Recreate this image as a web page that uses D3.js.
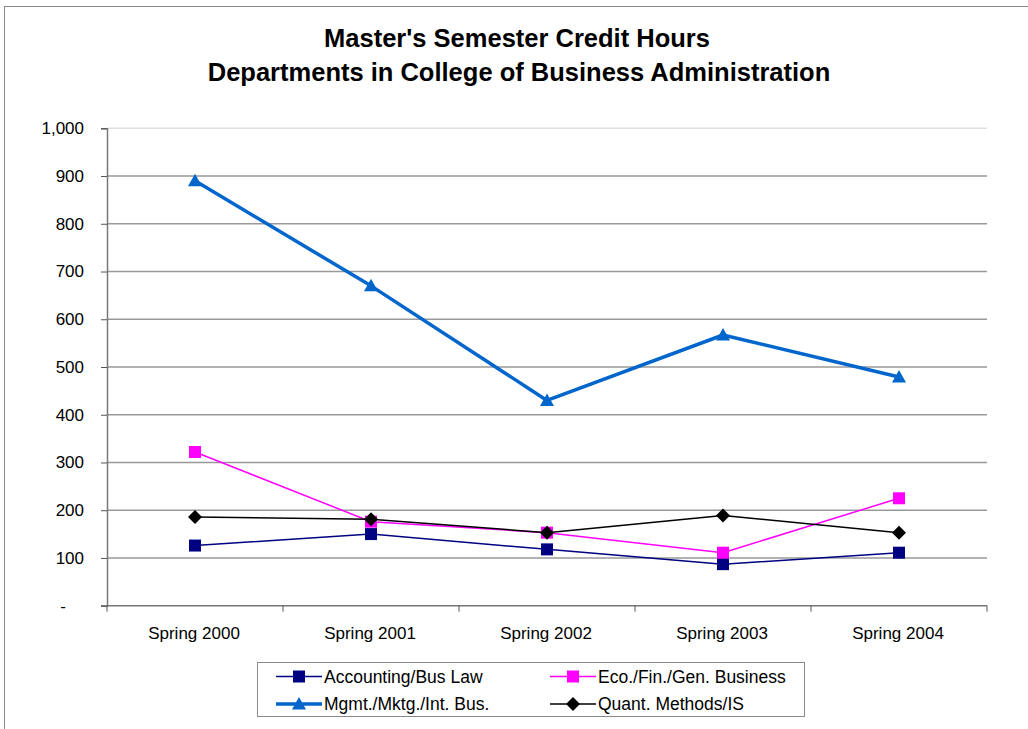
<!DOCTYPE html>
<html>
<head>
<meta charset="utf-8">
<script src="https://cdn.jsdelivr.net/npm/d3@7"></script>
<style>
  html, body { margin: 0; padding: 0; background: #fff; }
  svg { display: block; font-family: "Liberation Sans", Arial, sans-serif; }
</style>
</head>
<body>
<svg id="chart" width="1028" height="729"></svg>
<script>
// Semesters along the x axis
const semesters = ["Spring 2000", "Spring 2001", "Spring 2002", "Spring 2003", "Spring 2004"];

// Master's semester credit hours per department
const accounting = [126, 150, 118, 87, 111];
const economics  = [322, 176, 153, 111, 225];
const management = [890, 670, 430, 567, 479];
const quant      = [186, 181, 153, 189, 153];

const yTicks = [0, 100, 200, 300, 400, 500, 600, 700, 800, 900, 1000];

const series = [
  { name: "Accounting/Bus Law",        values: accounting, color: "#000080", width: 1.5, marker: "square" },
  { name: "Eco./Fin./Gen. Business",   values: economics,  color: "#FF00FF", width: 1.5, marker: "square" },
  { name: "Mgmt./Mktg./Int. Bus.",     values: management, color: "#0066CC", width: 3.5, marker: "triangle" },
  { name: "Quant. Methods/IS",         values: quant,      color: "#000000", width: 1.5, marker: "diamond" }
];

const svg = d3.select("#chart");
const plot = { left: 107, right: 987, top: 128.3, bottom: 605.7 };

// Chart frame
svg.append("rect")
  .attr("x", 4.5).attr("y", 6.5).attr("width", 1040).attr("height", 740)
  .attr("fill", "#fff").attr("stroke", "#888").attr("stroke-width", 1);

// Title
const title = svg.append("text")
  .attr("text-anchor", "middle")
  .attr("font-size", 25.5).attr("font-weight", "bold").attr("fill", "#000");
title.append("tspan").attr("x", 517).attr("y", 47).text("Master's Semester Credit Hours");
title.append("tspan").attr("x", 519).attr("y", 81).text("Departments in College of Business Administration");

const x = d3.scaleBand().domain(semesters).range([plot.left, plot.right]);
const y = d3.scaleLinear().domain([0, 1000]).range([plot.bottom, plot.top]);

// Horizontal gridlines
svg.append("g")
  .selectAll("line")
  .data(yTicks.filter(d => d > 0))
  .join("line")
  .attr("x1", plot.left).attr("x2", plot.right)
  .attr("y1", d => y(d)).attr("y2", d => y(d))
  .attr("stroke", d => d === 1000 ? "#e0e0e0" : "#999")
  .attr("stroke-width", 1.5);

// Y axis
const yAxis = d3.axisLeft(y)
  .tickValues(yTicks)
  .tickSize(6)
  .tickPadding(17)
  .tickFormat(d => d === 0 ? "-" : d3.format(",")(d));
const gy = svg.append("g").attr("transform", `translate(${plot.left},0)`).call(yAxis);
gy.select(".domain").attr("stroke", "#777").attr("stroke-width", 1.5);
gy.selectAll(".tick line").attr("stroke", "#555");
gy.selectAll(".tick text").attr("font-size", 17).attr("fill", "#000")
  .attr("font-family", "'Liberation Sans', Arial, sans-serif");
gy.selectAll(".tick").filter(d => d === 0).select("text").attr("dx", -18);

// X axis with ticks at the band boundaries
const gx = svg.append("g").attr("transform", `translate(0,${plot.bottom})`);
gx.append("line")
  .attr("x1", plot.left - 6).attr("x2", plot.right)
  .attr("stroke", "#777").attr("stroke-width", 1.5);
const boundaries = semesters.map(s => x(s)).concat([x(semesters[semesters.length - 1]) + x.bandwidth()]);
gx.selectAll("line.tk")
  .data(boundaries)
  .join("line").attr("class", "tk")
  .attr("x1", d => d).attr("x2", d => d)
  .attr("y1", 0).attr("y2", 6)
  .attr("stroke", "#555");
gx.selectAll("text")
  .data(semesters)
  .join("text")
  .attr("x", d => x(d) + x.bandwidth() / 2 - 1)
  .attr("y", 33)
  .attr("text-anchor", "middle")
  .attr("font-size", 17).attr("fill", "#000")
  .text(d => d);

// Marker shapes
function markerPath(type) {
  if (type === "square") return "M-6,-6H6V6H-6Z";
  if (type === "triangle") return "M0,-7L7,5.5H-7Z";
  return "M0,-7L7,0L0,7L-7,0Z";
}

const line = d3.line()
  .x((d, i) => x(semesters[i]) + x.bandwidth() / 2)
  .y(d => y(d));

// Draw series
series.forEach(s => {
  const g = svg.append("g");
  g.append("path")
    .attr("d", line(s.values))
    .attr("fill", "none")
    .attr("stroke", s.color)
    .attr("stroke-width", s.width)
    .attr("stroke-linejoin", "round");
  g.selectAll("path.mk")
    .data(s.values)
    .join("path").attr("class", "mk")
    .attr("transform", (d, i) => `translate(${x(semesters[i]) + x.bandwidth() / 2},${y(d)})`)
    .attr("d", markerPath(s.marker))
    .attr("fill", s.color);
});

// Legend
const legend = svg.append("g");
legend.append("rect")
  .attr("x", 257.5).attr("y", 662.5).attr("width", 547).attr("height", 54)
  .attr("fill", "#fff").attr("stroke", "#888").attr("stroke-width", 1);
const legendPos = [
  { lx: 276, tx: 324, y: 676.5 },
  { lx: 550, tx: 598, y: 676.5 },
  { lx: 276, tx: 324, y: 704 },
  { lx: 550, tx: 598, y: 704 }
];
series.forEach((s, i) => {
  const p = legendPos[i];
  legend.append("line")
    .attr("x1", p.lx).attr("x2", p.lx + 46)
    .attr("y1", p.y).attr("y2", p.y)
    .attr("stroke", s.color).attr("stroke-width", s.width);
  legend.append("path")
    .attr("transform", `translate(${p.lx + 23},${p.y})`)
    .attr("d", markerPath(s.marker))
    .attr("fill", s.color);
  legend.append("text")
    .attr("x", p.tx).attr("y", p.y + 6)
    .attr("font-size", 17.5).attr("fill", "#000")
    .text(s.name);
});
</script>
</body>
</html>
